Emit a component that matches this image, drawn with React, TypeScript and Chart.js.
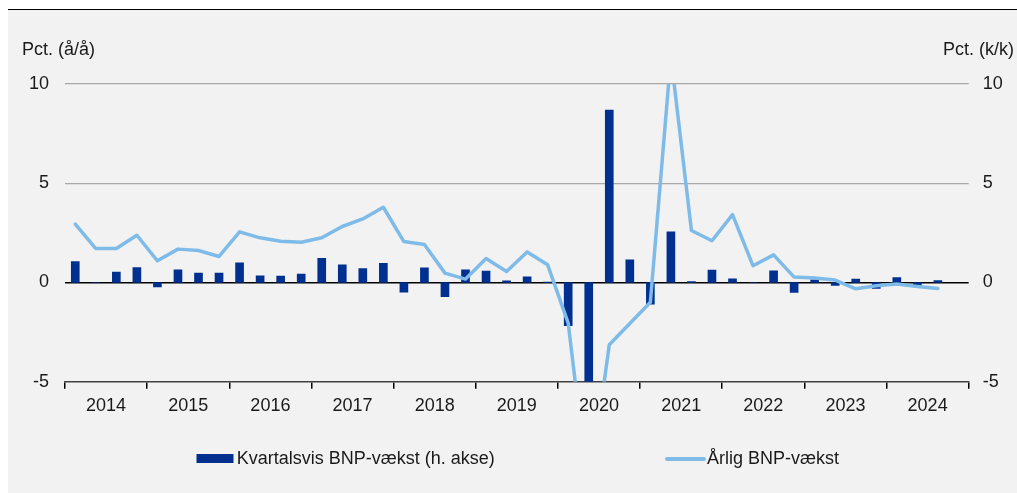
import React, { useEffect, useRef } from 'react';
import { Chart, registerables } from 'chart.js';

Chart.register(...registerables);

const FONT = '"Liberation Sans", Arial, sans-serif';
const TEXT = '#1a1a1a';

const years = ['2014', '2015', '2016', '2017', '2018', '2019', '2020', '2021', '2022', '2023', '2024'];
const quarterNames = ['K1', 'K2', 'K3', 'K4'];
const quarterLabels = years.flatMap((y) => quarterNames.map((q) => `${y} ${q}`));

// Kvartalsvis BNP-vækst (k/k, højre akse)
const quarterlyGrowth = [
  1.05, 0.0, 0.52, 0.75,
  -0.22, 0.64, 0.47, 0.47,
  0.99, 0.34, 0.32, 0.42,
  1.21, 0.89, 0.7, 0.97,
  -0.49, 0.74, -0.72, 0.64,
  0.57, 0.08, 0.29, 0.02,
  -2.18, -6.9, 8.69, 1.14,
  -1.09, 2.55, 0.05, 0.62,
  0.18, 0.0, 0.59, -0.5,
  0.13, -0.15, 0.17, -0.3,
  0.24, -0.15, 0.1, null,
];

// Årlig BNP-vækst (å/å, venstre akse)
const annualGrowth = [
  2.94, 1.71, 1.71, 2.38,
  1.09, 1.68, 1.61, 1.31,
  2.55, 2.25, 2.08, 2.03,
  2.25, 2.82, 3.2, 3.79,
  2.06, 1.91, 0.47, 0.17,
  1.21, 0.55, 1.54, 0.89,
  -2.05, -10.7, -3.14, -2.07,
  -1.0, 11.4, 2.62, 2.1,
  3.42, 0.84, 1.39, 0.27,
  0.23, 0.12, -0.32, -0.17,
  -0.08, -0.2, -0.3, null,
];

const axisMin = -5;
const axisMax = 10;
const axisStep = 5;

const barLabel = 'Kvartalsvis BNP-vækst (h. akse)';
const lineLabel = 'Årlig BNP-vækst';
const leftTitle = 'Pct. (å/å)';
const rightTitle = 'Pct. (k/k)';

const BAR_COLOR = '#00308f';
const LINE_COLOR = '#7fbbe8';

const overlayPlugin = {
  id: 'overlay',
  afterDraw(chart: any) {
    const ctx = chart.ctx as CanvasRenderingContext2D;
    const ds = chart.data.datasets;
    ctx.save();
    ctx.font = `18px ${FONT}`;
    ctx.fillStyle = TEXT;
    ctx.textBaseline = 'alphabetic';
    ctx.textAlign = 'left';
    ctx.fillText(leftTitle, 14, 45);
    ctx.textAlign = 'right';
    ctx.fillText(rightTitle, 1006, 45);

    // legend
    ctx.fillStyle = ds[0].backgroundColor;
    ctx.fillRect(188.5, 444, 37, 9);
    ctx.fillStyle = TEXT;
    ctx.textAlign = 'left';
    ctx.textBaseline = 'middle';
    ctx.fillText(ds[0].label, 228.7, 449);

    ctx.strokeStyle = ds[1].borderColor;
    ctx.lineWidth = 4;
    ctx.lineCap = 'round';
    ctx.beginPath();
    ctx.moveTo(659, 449);
    ctx.lineTo(696, 449);
    ctx.stroke();
    ctx.fillText(ds[1].label, 699, 449);
    ctx.restore();
  },
};

export default function App() {
  const ref = useRef<HTMLCanvasElement>(null);

  useEffect(() => {
    Chart.defaults.font.family = FONT;
    Chart.defaults.font.size = 18;
    Chart.defaults.color = TEXT;
    const chart = new Chart(ref.current as HTMLCanvasElement, {
      type: 'bar',
      data: {
        labels: quarterLabels,
        datasets: [
          {
            type: 'bar',
            label: barLabel,
            data: quarterlyGrowth,
            yAxisID: 'y1',
            backgroundColor: BAR_COLOR,
            barThickness: 8,
            order: 1,
            clip: 0,
          } as any,
          {
            type: 'line',
            label: lineLabel,
            data: annualGrowth,
            yAxisID: 'y',
            borderColor: LINE_COLOR,
            backgroundColor: LINE_COLOR,
            borderWidth: 3.5,
            pointRadius: 0,
            tension: 0,
            borderCapStyle: 'round',
            borderJoinStyle: 'round',
            order: 0,
            clip: 0,
          } as any,
        ],
      },
      options: {
        responsive: false,
        animation: false,
        devicePixelRatio: 1,
        layout: { padding: { top: 74, left: 0, right: 0, bottom: 0 } },
        plugins: {
          legend: { display: false },
          tooltip: { enabled: false },
        },
        scales: {
          x: {
            type: 'category',
            offset: true,
            grid: {
              offset: true,
              drawOnChartArea: false,
              drawTicks: true,
              tickLength: 7,
              lineWidth: 1.5,
              color: (c: any) =>
                c.index === undefined || c.index % 4 === 0 ? '#000000' : 'rgba(0,0,0,0)',
            },
            border: { display: true, color: '#404040', width: 1.5 },
            ticks: {
              autoSkip: false,
              maxRotation: 0,
              minRotation: 0,
              padding: 6.5,
              labelOffset: 10.27,
              color: TEXT,
              font: { size: 18, family: FONT },
              callback: (_v: any, i: number) => (i % 4 === 1 ? years[Math.floor(i / 4)] : ''),
            },
            afterFit: (s: any) => {
              s.height = 111.3;
            },
          },
          y: {
            type: 'linear',
            position: 'left',
            min: axisMin,
            max: axisMax,
            ticks: { stepSize: axisStep, padding: 16, color: TEXT, font: { size: 18, family: FONT } },
            grid: {
              drawTicks: false,
              color: (c: any) =>
                c.tick && c.tick.value === 0
                  ? '#000000'
                  : c.tick && c.tick.value === axisMin
                  ? 'rgba(0,0,0,0)'
                  : '#a8a8a8',
              lineWidth: (c: any) => (c.tick && c.tick.value === 0 ? 1.5 : 1.2),
            },
            border: { display: false },
            afterFit: (s: any) => {
              s.width = 57;
            },
          },
          y1: {
            type: 'linear',
            position: 'right',
            min: axisMin,
            max: axisMax,
            ticks: { stepSize: axisStep, padding: 14, color: TEXT, font: { size: 18, family: FONT } },
            grid: { display: false, drawTicks: false },
            border: { display: false },
            afterFit: (s: any) => {
              s.width = 48.3;
            },
          },
        },
      } as any,
      plugins: [overlayPlugin],
    });
    return () => chart.destroy();
  }, []);

  return (
    <>
      <style>{'html{overflow:hidden}body{margin:0;padding:0}'}</style>
      <div style={{ position: 'relative', width: 1017, height: 493, background: '#ffffff', overflow: 'hidden' }}>
        <div
          style={{
            position: 'absolute',
            left: 8,
            top: 9,
            width: 1009,
            height: 484,
            background: '#f2f2f2',
            borderTop: '1px solid #000',
            boxSizing: 'border-box',
          }}
        >
          <canvas ref={ref} width={1009} height={483} style={{ display: 'block' }} />
        </div>
      </div>
    </>
  );
}
